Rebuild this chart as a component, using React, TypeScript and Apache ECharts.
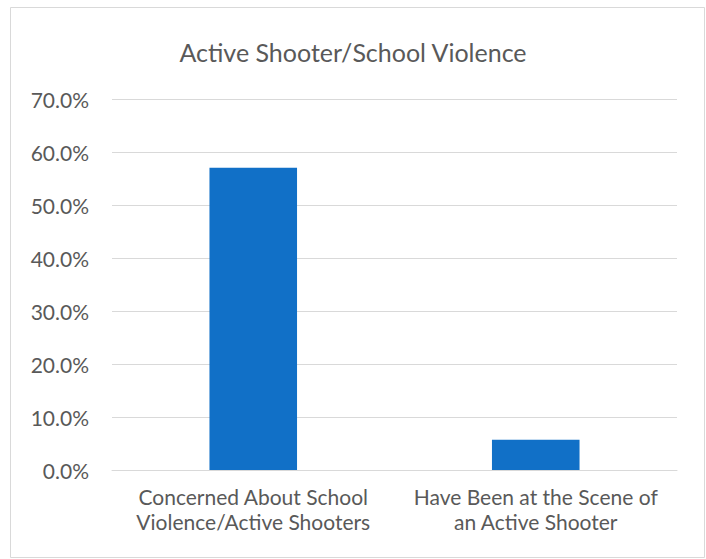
import React, { useEffect, useRef } from "react";
import * as echarts from "echarts";

const title = "Active Shooter/School Violence";
const categories = [
  "Concerned About School\nViolence/Active Shooters",
  "Have Been at the Scene of\nan Active Shooter",
];
const values = [57.1, 5.7];
const yTicks = { min: 0, max: 70, interval: 10 };

export default function App() {
  const ref = useRef<HTMLDivElement>(null);
  useEffect(() => {
    const chart = echarts.init(ref.current!, null, { renderer: "svg" });
    const font = "Lato, 'Open Sans', sans-serif";
    chart.setOption({
      animation: false,
      backgroundColor: "#ffffff",
      title: {
        text: title,
        left: "center",
        top: 34,
        textStyle: { fontFamily: font, fontSize: 25, fontWeight: "normal", color: "#595959" },
      },
      graphic: [
        {
          type: "rect",
          shape: { x: 10.5, y: 7.5, width: 694, height: 550 },
          style: { fill: "none", stroke: "#d9d9d9", lineWidth: 1 },
          silent: true,
        },
      ],
      grid: { left: 112, right: 29, top: 99.5, bottom: 89, containLabel: false },
      xAxis: {
        type: "category",
        data: categories,
        axisLine: { show: true, lineStyle: { color: "#d9d9d9" } },
        axisTick: { show: false },
        axisLabel: {
          interval: 0,
          hideOverlap: false,
          fontFamily: font,
          fontSize: 21,
          color: "#595959",
          lineHeight: 25,
          margin: 14,
        },
      },
      yAxis: {
        type: "value",
        min: yTicks.min,
        max: yTicks.max,
        interval: yTicks.interval,
        axisLine: { show: false },
        axisTick: { show: false },
        splitLine: { lineStyle: { color: "#d9d9d9", width: 1 } },
        axisLabel: {
          fontFamily: font,
          fontSize: 21,
          color: "#595959",
          margin: 23,
          formatter: (v: number) => v.toFixed(1) + "%",
        },
      },
      series: [
        {
          type: "bar",
          data: values,
          barWidth: "31%",
          itemStyle: { color: "#1170c7" },
        },
      ],
    });
    return () => chart.dispose();
  }, []);
  return (
    <div
      ref={ref}
      style={{ position: "fixed", left: 0, top: 0, width: 706, height: 559 }}
    />
  );
}
